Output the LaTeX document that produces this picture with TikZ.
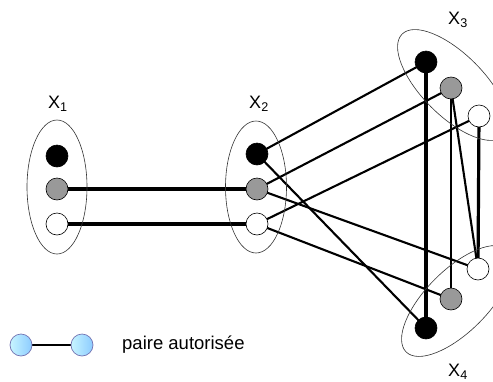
\documentclass[tikz,border=0pt]{standalone}
\usepackage{fontspec}
\setmainfont{Liberation Sans}
\usetikzlibrary{shapes.geometric,backgrounds}
\begin{document}
\begin{tikzpicture}[x=1pt,y=-1pt,
  vtx/.style={circle,draw=black,line width=0.6pt,minimum size=22pt,inner sep=0pt},
  blk/.style={vtx,fill=black},
  gry/.style={vtx,fill=black!40},
  wht/.style={vtx,fill=white},
  grp/.style={ellipse,draw=black!80,line width=0.6pt,inner sep=0pt},
  lab/.style={font=\fontsize{18}{18}\selectfont,inner sep=0pt},
  edge/.style={line width=2.1pt},
  tedge/.style={line width=3.2pt},
  leg/.style={circle,draw=black!55!blue!55,line width=0.7pt,minimum size=22pt,inner sep=0pt,
    shading angle=135,left color=blue!18!cyan!22,right color=blue!45!cyan!45}
]
\useasboundingbox (0,0) rectangle (493,381);
% group ellipses
\node[grp,minimum width=60pt,minimum height=134pt] (e1) at (57,187) {};
\node[grp,minimum width=61pt,minimum height=132pt] (e2) at (256,187) {};
\node[grp,minimum width=144pt,minimum height=62pt,rotate=-45] (e3) at (453,85) {};
\node[grp,minimum width=144pt,minimum height=62pt,rotate=45] (e4) at (457,301) {};
% labels
\node[lab] (l1) at (58,104) {X\textsubscript{1}};
\node[lab] (l2) at (259,104) {X\textsubscript{2}};
\node[lab] (l3) at (458,20) {X\textsubscript{3}};
\node[lab] (l4) at (458,372) {X\textsubscript{4}};
% vertices
\node[blk] (a1) at (57,156) {};
\node[gry] (b1) at (57,189) {};
\node[wht] (c1) at (57,224) {};
\node[blk] (a2) at (257,154) {};
\node[gry] (b2) at (257,189) {};
\node[wht] (c2) at (257,224) {};
\node[blk] (a3) at (426,62) {};
\node[gry] (b3) at (451,88) {};
\node[wht] (c3) at (479,116) {};
\node[wht] (c4) at (478,269) {};
\node[gry] (b4) at (451,299) {};
\node[blk] (a4) at (426,328) {};
% edges
\begin{scope}[on background layer]
\draw[tedge] (b1.center) -- (b2.center);
\draw[tedge] (c1.center) -- (c2.center);
\draw[edge] (a2.center) -- (a3.center);
\draw[edge] (a2.center) -- (a4.center);
\draw[edge] (b2.center) -- (b3.center);
\draw[edge] (b2.center) -- (c4.center);
\draw[edge] (c2.center) -- (c3.center);
\draw[edge] (c2.center) -- (b4.center);
\draw[tedge] (a3.center) -- (a4.center);
\draw[edge] (b3.center) -- (b4.center);
\draw[edge] (b3.center) -- (c4.center);
\draw[tedge] (c3.center) -- (c4.center);
\end{scope}
% legend
\node[leg] (p1) at (21,345) {};
\node[leg] (p2) at (82,345) {};
\begin{scope}[on background layer]
\draw[line width=2.6pt] (p1.center) -- (p2.center);
\end{scope}
\node[anchor=west,inner sep=0pt,font=\fontsize{18.5}{18.5}\selectfont] (lt) at (122,345) {paire autorisée};
\end{tikzpicture}
\end{document}
